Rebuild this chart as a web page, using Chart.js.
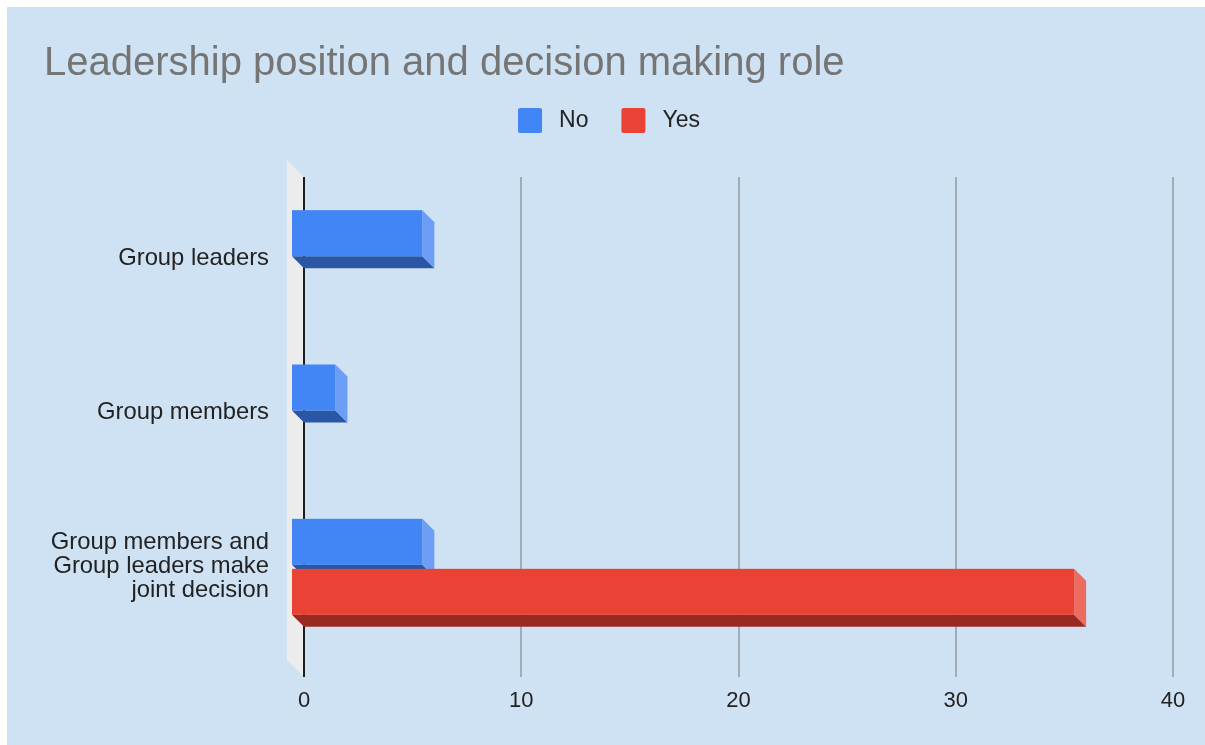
<!DOCTYPE html>
<html>
<head>
<meta charset="utf-8">
<script src="https://cdn.jsdelivr.net/npm/chart.js@4.4.0/dist/chart.umd.min.js"></script>
<style>
  html, body { margin: 0; padding: 0; background: #fff; }
  #wrap { position: absolute; left: 7px; top: 7px; width: 1198px; height: 738px; background: #cfe2f3; }
</style>
</head>
<body>
<div id="wrap"><canvas id="chart" width="1198" height="738"></canvas></div>
<script>
// data
const chartTitle = 'Leadership position and decision making role';
const categories = ['Group leaders', 'Group members', ['Group members and', 'Group leaders make', 'joint decision']];
const seriesNames = ['No', 'Yes'];
const noValues = [6, 2, 6];
const yesValues = [0, 0, 36];
const valueTicks = [0, 10, 20, 30, 40];

const FONT = 'Arial, "Liberation Sans", sans-serif';
const DEPTH = 12;   // 3d offset of the bars
const WALL = 17;    // 3d offset of the side wall
const faces = [
    { front: '#4285f4', side: '#6d9ef6', bottom: '#2a56a6' },
    { front: '#ea4335', side: '#ee6b60', bottom: '#992a22' }
];

function poly(ctx, pts) {
    ctx.beginPath();
    ctx.moveTo(pts[0][0], pts[0][1]);
    for (let i = 1; i < pts.length; i++) ctx.lineTo(pts[i][0], pts[i][1]);
    ctx.closePath();
    ctx.fill();
}

// draws wall, grid and the extruded bars instead of the flat ones
const bars3d = {
    id: 'bars3d',
    beforeDatasetsDraw(chart) {
        const { ctx, chartArea: area, scales: { x } } = chart;
        const top = area.top - 4, bottom = area.bottom + 33;
        const x0 = x.getPixelForValue(0);
        ctx.save();

        ctx.fillStyle = '#ececec';
        poly(ctx, [[x0 - WALL, top - WALL], [x0, top], [x0, bottom], [x0 - WALL, bottom - WALL]]);

        ctx.lineWidth = 2;
        x.ticks.forEach(t => {
            const px = Math.round(x.getPixelForValue(t.value));
            ctx.strokeStyle = t.value === 0 ? '#1c1c1c' : '#a2acb6';
            ctx.beginPath();
            ctx.moveTo(px, top);
            ctx.lineTo(px, bottom);
            ctx.stroke();
        });

        chart.data.datasets.forEach((ds, i) => {
            const c = faces[i];
            chart.getDatasetMeta(i).data.forEach(bar => {
                const { x: end, y, base, height } = bar.getProps(['x', 'y', 'base', 'height']);
                if (end - base < 1) return;
                const l = base - DEPTH, r = end - DEPTH, t = y - height / 2, b = y + height / 2;
                ctx.fillStyle = c.bottom;
                poly(ctx, [[l, b], [r, b], [r + DEPTH, b + DEPTH], [l + DEPTH, b + DEPTH]]);
                ctx.fillStyle = c.side;
                poly(ctx, [[r, t], [r + DEPTH, t + DEPTH], [r + DEPTH, b + DEPTH], [r, b]]);
                ctx.fillStyle = c.front;
                ctx.fillRect(l, t, r - l, b - t);
            });
        });
        ctx.restore();
        return false;
    },
    afterDraw(chart) {
        const ctx = chart.ctx;
        ctx.save();
        ctx.font = '40px ' + FONT;
        ctx.fillStyle = '#757575';
        ctx.textBaseline = 'alphabetic';
        ctx.fillText(chartTitle, 37, 68);

        // legend
        ctx.font = '23px ' + FONT;
        const items = chart.data.datasets.map(ds => ({
            text: ds.label,
            color: ds.backgroundColor,
            w: 24 + 17 + ctx.measureText(ds.label).width
        }));
        const total = items.reduce((s, it) => s + it.w, 0) + 33 * (items.length - 1);
        let lx = chart.width / 2 - total / 2 + 3;
        items.forEach(it => {
            ctx.fillStyle = it.color;
            ctx.beginPath();
            ctx.roundRect(lx, 101, 24, 25, 2);
            ctx.fill();
            ctx.fillStyle = '#222';
            ctx.textBaseline = 'middle';
            ctx.fillText(it.text, lx + 41, 114);
            lx += it.w + 33;
        });
        ctx.restore();
    }
};

new Chart(document.getElementById('chart'), {
    type: 'bar',
    data: {
        labels: categories,
        datasets: [
            { label: seriesNames[0], data: noValues, backgroundColor: faces[0].front, barPercentage: 0.92, categoryPercentage: 0.648 },
            { label: seriesNames[1], data: yesValues, backgroundColor: faces[1].front, barPercentage: 0.92, categoryPercentage: 0.648 }
        ]
    },
    options: {
        indexAxis: 'y',
        responsive: false,
        animation: false,
        layout: { padding: { top: 174, right: 32, left: 0, bottom: 0 } },
        plugins: {
            legend: { display: false },
            title: { display: false },
            tooltip: { enabled: false }
        },
        scales: {
            x: {
                min: 0,
                max: 40,
                afterBuildTicks: s => { s.ticks = valueTicks.map(v => ({ value: v })); },
                afterFit: s => {
                    s.height = 101;
                    s.paddingLeft = 0;
                    s.paddingRight = 0;
                },
                grid: { display: false, drawTicks: false },
                border: { display: false },
                ticks: { padding: 44, color: '#222', font: { family: FONT, size: 22 } }
            },
            y: {
                afterFit: s => { s.width = 297; },
                grid: { display: false, drawTicks: false },
                border: { display: false },
                ticks: { padding: 35, color: '#222', font: { family: FONT, size: 23.8, lineHeight: '24px' } }
            }
        }
    },
    plugins: [bars3d]
});
</script>
</body>
</html>
